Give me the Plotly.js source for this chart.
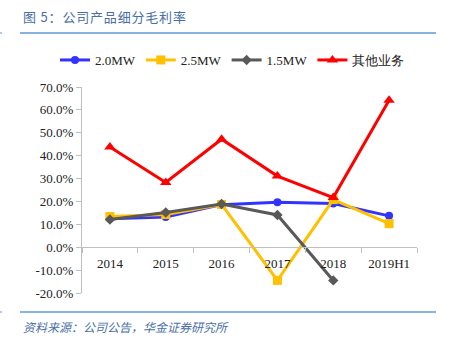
<!DOCTYPE html>
<html><head><meta charset="utf-8">
<script src="https://cdn.plot.ly/plotly-3.0.1.min.js"></script>
<style>html,body{margin:0;padding:0;background:#fff;}#chart{width:450px;height:343px;}</style>
</head><body><div id="chart"></div>
<script>
const categories = ['2014','2015','2016','2017','2018','2019H1'];
const mw20 = [12.4, 13.2, 18.6, 19.7, 19.1, 13.7];
const mw25 = [13.4, 14.3, 18.7, -14.5, 20.8, 10.3];
const mw15 = [12.1, 15.2, 18.9, 14.1, -14.5, null];
const other = [43.8, 28.3, 47.2, 31.1, 21.7, 64.2];
const seriesNames = ['2.0MW', '2.5MW', '1.5MW', '其他业务'];
const yTicks = [-20, -10, 0, 10, 20, 30, 40, 50, 60, 70];
const titleText = '图 5：公司产品细分毛利率';
const sourceText = '资料来源：公司公告，华金证券研究所';

const serif = 'Liberation Serif, Times New Roman, serif';
const cjk = 'Noto Sans CJK SC, sans-serif';

const W = 450, H = 343, ML = 82, MR = 33, MT = 87, MB = 50;
const PW = W - ML - MR, PH = H - MT - MB;
const px = x => (x - ML) / PW;
const py = y => (H - MB - y) / PH;

function tr(y, name, color, symbol, size) {
  return {x: categories, y: y, name: name, type: 'scatter', mode: 'lines+markers',
    line: {color: color, width: 3}, marker: {symbol: symbol, size: size, color: color},
    connectgaps: false};
}
const data = [
  tr(mw20, seriesNames[0], '#3333FF', 'circle', 8),
  tr(mw25, seriesNames[1], '#FFC000', 'square', 9),
  tr(mw15, seriesNames[2], '#595959', 'diamond', 8),
  tr(other, seriesNames[3], '#FF0000', 'triangle-up', 10)
];
const zeroPos = (0 - yTicks[0]) / (yTicks[yTicks.length-1] - yTicks[0]);
function hline(x0, x1, y, w) {
  return {type: 'line', xref: 'paper', yref: 'paper', x0: px(x0), x1: px(x1), y0: py(y), y1: py(y),
    line: {color: '#5B9BD5', width: w}};
}
const spaced = Array.from(titleText).join('\u200A');
const layout = {
  width: W, height: H,
  margin: {l: ML, r: MR, t: MT, b: MB},
  paper_bgcolor: '#fff', plot_bgcolor: '#fff',
  showlegend: true,
  legend: {orientation: 'h', x: px(55), y: py(45),
    xanchor: 'left', yanchor: 'top', font: {family: serif, size: 13, color: '#222'},
    itemwidth: 30, tracegroupgap: 0},
  xaxis: {type: 'category', anchor: 'free', position: zeroPos, showline: true, linecolor: '#bfbfbf',
    linewidth: 1, ticks: 'outside', tickson: 'boundaries', ticklen: 5, tickcolor: '#bfbfbf',
    showgrid: false, zeroline: false, tickfont: {family: serif, size: 13, color: '#222'},
    ticklabelstandoff: 4, range: [-0.5, 5.5]},
  yaxis: {range: [yTicks[0], yTicks[yTicks.length-1]], tickvals: yTicks,
    ticktext: yTicks.map(v => v.toFixed(1) + '%'), showline: true, linecolor: '#bfbfbf',
    ticks: 'outside', ticklen: 5, tickcolor: '#bfbfbf', showgrid: false, zeroline: false,
    tickfont: {family: serif, size: 13, color: '#222'}},
  shapes: [
    hline(20, 436, 33, 1.5),
    hline(20, 436, 312, 1.5),
    hline(0, 2, 33, 1),
    hline(0, 2, 312, 1)
  ],
  annotations: [
    {text: spaced, xref: 'paper', yref: 'paper', x: px(21), y: py(17),
      xanchor: 'left', yanchor: 'middle', showarrow: false,
      font: {family: cjk, size: 13, color: '#4A6FA5'}},
    {text: '<i>' + sourceText + '</i>', xref: 'paper', yref: 'paper', x: px(21), y: py(326),
      xanchor: 'left', yanchor: 'middle', showarrow: false,
      font: {family: cjk, size: 12, color: '#4A6FA5'}}
  ]
};
Plotly.newPlot('chart', data, layout, {displayModeBar: false, staticPlot: true});
</script></body></html>
